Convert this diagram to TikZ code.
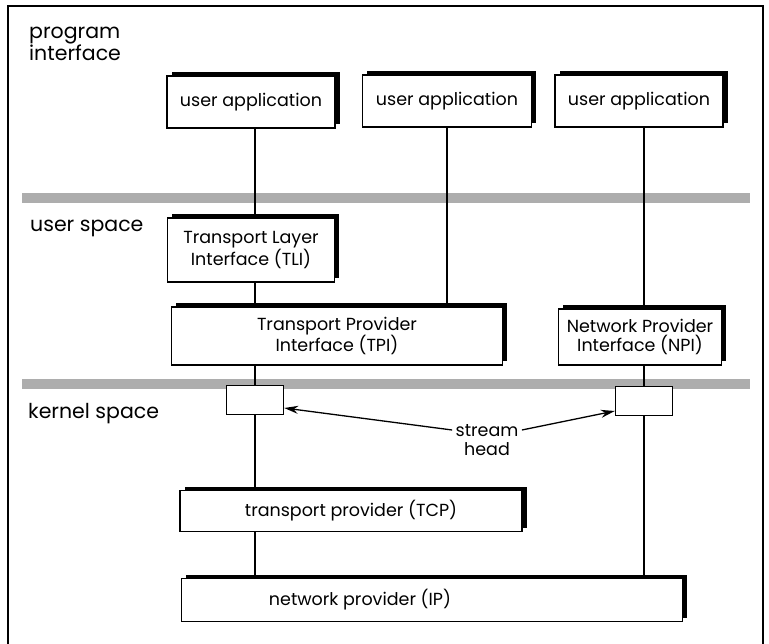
\documentclass[tikz,border=0pt]{standalone}
\usepackage{fontspec}
\setmainfont{Poppins}
\usetikzlibrary{positioning,arrows.meta,calc,shadows}

\begin{document}
\begin{tikzpicture}[x=1pt,y=-1pt,>=Stealth,
    every node/.style={font=\fontsize{17.5}{19.5}\selectfont},
    layer/.style={draw,line width=1.4pt,fill=white,inner sep=0pt,align=center,
      general shadow={shadow xshift=4.5pt,shadow yshift=3.5pt,fill=black}},
    head/.style={draw,line width=1.4pt,fill=white,inner sep=0pt,minimum width=57pt,minimum height=29pt},
    region/.style={inner sep=0pt,align=left,font=\fontsize{20.5}{18}\selectfont},
    band/.style={fill=black!32},
    link/.style={line width=1.3pt}]
  \useasboundingbox (0,0) rectangle (769,644);
  \draw[line width=1.2pt] (8,644) -- (8,6) -- (763,6) -- (763,644);
  \fill[band] (22,193) rectangle (750,203);
  \fill[band] (22,379) rectangle (750,389);
  \node[region,anchor=north west] (progif) at (29,27) {program\\interface};
  \node[region,anchor=west] (usersp) at (30,228) {user space};
  \node[region,anchor=west] (kernelsp) at (28,414) {kernel space};
  \node[layer,minimum width=168pt,minimum height=52pt] (ua1) at (251,102) {user application};
  \node[layer,minimum width=169pt,minimum height=52pt] (ua2) at (447,101) {user application};
  \node[layer,minimum width=168pt,minimum height=52pt] (ua3) at (639,101) {user application};
  \node[layer,minimum width=167pt,minimum height=64pt] (tli) at (251,250) {Transport Layer\\Interface (TLI)};
  \node[layer,minimum width=331pt,minimum height=58pt] (tpi) at (337,336) {Transport Provider\\Interface (TPI)};
  \node[layer,minimum width=163pt,minimum height=56pt] (npi) at (640,337) {Network Provider\\Interface (NPI)};
  \node[head] (sh1) at (255,400) {};
  \node[head] (sh2) at (644,401) {};
  \node[layer,minimum width=342pt,minimum height=41pt] (tcp) at (351,511) {transport provider (TCP)};
  \node[layer,minimum width=501pt,minimum height=43pt] (ip) at (432,600) {};
  \node (iptext) at (360,600) {network provider (IP)};
  \node[align=center] (sthead) at (487,440) {stream\\head};
  \draw[link] (ua1.south -| sh1) -- (tli.north -| sh1);
  \draw[link] (tli.south -| sh1) -- (tpi.north -| sh1);
  \draw[link] (tpi.south -| sh1) -- (sh1.north);
  \draw[link] (sh1.south) -- (tcp.north -| sh1);
  \draw[link] (tcp.south -| sh1) -- (ip.north -| sh1);
  \draw[link] (ua2.south) -- (ua2.south |- tpi.north);
  \draw[link] (ua3.south -| sh2) -- (npi.north -| sh2);
  \draw[link] (npi.south -| sh2) -- (sh2.north);
  \draw[link] (sh2.south) -- (ip.north -| sh2);
  \draw[link,-{Stealth[length=14pt,width=8pt]}] ([yshift=10pt]sthead.west) -- ([yshift=-8pt]sh1.east);
  \draw[link,-{Stealth[length=14pt,width=8pt]}] ([yshift=10pt]sthead.east) -- ([yshift=-10pt]sh2.west);
\end{tikzpicture}
\end{document}
